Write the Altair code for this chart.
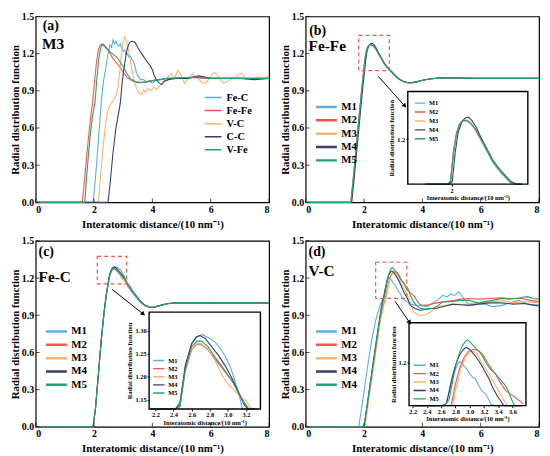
import altair as alt
import pandas as pd

FONT = "Liberation Serif"
W, H = 236, 188

M_NAMES = ["M1", "M2", "M3", "M4", "M5"]
M_COLORS = ["#5BAFDD", "#F4574A", "#FBB36C", "#3C3B6E", "#22A46F"]
A_NAMES = ["Fe-C", "Fe-Fe", "V-C", "C-C", "V-Fe"]
X_TICKS = [0, 2, 4, 6, 8]
Y_TICKS = [0.0, 0.3, 0.6, 0.9, 1.2, 1.5]
XT = "Interatomic distance/(10 nm⁻¹)"
YT = "Radial distribution function"

# ---------------- panel (a): M3 ----------------
A_FEC = [(0, 0), (1.97, 0), (2.05, 0.2), (2.15, 0.5), (2.25, 0.82), (2.32, 0.97), (2.4, 1.08), (2.45, 1.16),
         (2.5, 1.22), (2.55, 1.27), (2.6, 1.25), (2.65, 1.31), (2.7, 1.28), (2.75, 1.3), (2.8, 1.27), (2.85, 1.26),
         (2.9, 1.28), (2.95, 1.24), (3.0, 1.22), (3.05, 1.23), (3.1, 1.19), (3.15, 1.2), (3.2, 1.17), (3.25, 1.18),
         (3.3, 1.15), (3.35, 1.14), (3.4, 1.1), (3.45, 1.05), (3.5, 1.02), (3.6, 0.99), (3.7, 0.99), (3.8, 0.97),
         (3.9, 0.98), (4.0, 0.96), (4.1, 0.98), (4.3, 0.99), (4.6, 1.0), (5.0, 1.0), (5.5, 1.01), (6.0, 1.0),
         (6.5, 1.0), (7.0, 1.0), (7.5, 1.0), (8.0, 1.0)]
A_FEFE = [(0, 0), (1.6, 0), (1.7, 0.25), (1.8, 0.5), (1.9, 0.72), (1.95, 0.8), (2.02, 0.98), (2.08, 1.12),
          (2.14, 1.22), (2.2, 1.265), (2.25, 1.275), (2.35, 1.26), (2.45, 1.235), (2.55, 1.2), (2.65, 1.16),
          (2.79, 1.12), (2.9, 1.085), (3.0, 1.05), (3.13, 1.01), (3.3, 0.98), (3.47, 0.966), (3.7, 0.97),
          (3.9, 0.98), (4.1, 0.987), (4.5, 0.995), (5.0, 1.005), (5.5, 1.005), (6.0, 1.0), (7.0, 1.0), (8.0, 1.0)]
A_VC = [(0, 0), (2.15, 0), (2.22, 0.2), (2.3, 0.42), (2.38, 0.6), (2.45, 0.72), (2.52, 0.77), (2.6, 0.8),
        (2.68, 0.83), (2.75, 0.86), (2.82, 0.92), (2.88, 1.05), (2.93, 1.18), (2.98, 1.27), (3.03, 1.32),
        (3.06, 1.334), (3.1, 1.3), (3.15, 1.26), (3.19, 1.22), (3.25, 1.14), (3.3, 1.066), (3.38, 0.98),
        (3.47, 0.908), (3.55, 0.88), (3.64, 0.87), (3.7, 0.91), (3.78, 0.89), (3.86, 0.92), (3.95, 0.9),
        (4.05, 0.93), (4.15, 0.91), (4.25, 0.94), (4.35, 0.97), (4.5, 1.0), (4.65, 1.04), (4.75, 1.0),
        (4.88, 1.066), (5.0, 1.02), (5.1, 0.96), (5.2, 0.99), (5.37, 1.04), (5.55, 1.0), (5.7, 0.97),
        (5.83, 0.96), (5.95, 1.0), (6.11, 1.05), (6.25, 1.02), (6.35, 0.98), (6.45, 0.96), (6.6, 0.98),
        (6.84, 1.01), (6.95, 1.03), (7.07, 1.04), (7.2, 1.0), (7.35, 0.99), (7.6, 1.01), (7.8, 1.0), (8.0, 1.02)]
A_CC = [(0, 0), (2.48, 0), (2.55, 0.15), (2.65, 0.4), (2.75, 0.6), (2.85, 0.73), (2.9, 0.8), (2.97, 0.98),
        (3.05, 1.12), (3.12, 1.22), (3.18, 1.27), (3.24, 1.295), (3.3, 1.3), (3.41, 1.29), (3.5, 1.25),
        (3.6, 1.21), (3.69, 1.18), (3.8, 1.14), (3.92, 1.105), (4.0, 1.07), (4.07, 1.02), (4.14, 0.987),
        (4.25, 0.96), (4.32, 0.95), (4.4, 0.975), (4.55, 0.99), (4.8, 1.0), (5.2, 1.0), (5.6, 1.02), (6.0, 1.0),
        (6.5, 1.0), (7.0, 1.0), (7.5, 0.99), (8.0, 1.0)]
A_VFE = [(0, 0), (1.68, 0), (1.76, 0.25), (1.86, 0.52), (1.95, 0.7), (2.03, 0.8), (2.1, 1.0), (2.16, 1.15),
         (2.22, 1.24), (2.28, 1.28), (2.35, 1.27), (2.45, 1.24), (2.57, 1.21), (2.68, 1.19), (2.79, 1.17),
         (2.9, 1.13), (3.02, 1.09), (3.12, 1.04), (3.24, 1.0), (3.4, 0.975), (3.58, 0.966), (3.8, 0.97),
         (4.0, 0.98), (4.2, 0.99), (4.5, 1.0), (5.0, 1.005), (5.5, 1.01), (6.0, 1.0), (7.0, 1.0), (8.0, 1.0)]

# ---------------- panel (b): Fe-Fe ----------------
B_M1 = [(0, 0), (1.55, 0), (1.62, 0.16), (1.7, 0.36), (1.78, 0.56), (1.86, 0.76), (1.93, 0.93), (1.98, 1.04),
        (2.03, 1.15), (2.08, 1.22), (2.13, 1.254), (2.19, 1.268), (2.25, 1.27), (2.32, 1.26), (2.4, 1.237),
        (2.5, 1.196), (2.6, 1.154), (2.7, 1.112), (2.8, 1.082), (2.9, 1.058), (3.0, 1.035), (3.1, 1.012),
        (3.2, 0.993), (3.35, 0.975), (3.5, 0.965), (3.65, 0.966), (3.8, 0.972), (4.0, 0.985), (4.3, 0.997),
        (4.8, 1.006), (5.3, 1.003), (5.8, 1.0), (6.5, 1.0), (7.2, 1.0), (8.0, 1.0)]
B_M2 = [(0, 0), (1.55, 0), (1.62, 0.16), (1.7, 0.36), (1.78, 0.56), (1.86, 0.76), (1.93, 0.93), (1.98, 1.04),
        (2.03, 1.15), (2.08, 1.22), (2.13, 1.255), (2.19, 1.271), (2.25, 1.27), (2.32, 1.261), (2.4, 1.238),
        (2.5, 1.2), (2.6, 1.16), (2.7, 1.12), (2.8, 1.09), (2.9, 1.065), (3.0, 1.04), (3.1, 1.015),
        (3.2, 0.995), (3.35, 0.975), (3.5, 0.965), (3.65, 0.966), (3.8, 0.972), (4.0, 0.985), (4.3, 0.997),
        (4.8, 1.006), (5.3, 1.003), (5.8, 1.0), (6.5, 1.0), (7.2, 1.0), (8.0, 1.0)]
B_M3 = [(0, 0), (1.55, 0), (1.62, 0.16), (1.7, 0.36), (1.78, 0.56), (1.86, 0.76), (1.93, 0.93), (1.98, 1.04),
        (2.03, 1.15), (2.08, 1.22), (2.13, 1.254), (2.19, 1.269), (2.25, 1.27), (2.32, 1.262), (2.4, 1.24),
        (2.5, 1.205), (2.6, 1.168), (2.7, 1.124), (2.8, 1.094), (2.9, 1.07), (3.0, 1.046), (3.1, 1.02),
        (3.2, 0.997), (3.35, 0.976), (3.5, 0.966), (3.65, 0.966), (3.8, 0.972), (4.0, 0.985), (4.3, 0.997),
        (4.8, 1.007), (5.3, 1.003), (5.8, 1.0), (6.5, 1.0), (7.2, 1.0), (8.0, 1.0)]
B_M4 = [(0, 0), (1.58, 0), (1.65, 0.16), (1.73, 0.36), (1.81, 0.56), (1.89, 0.76), (1.96, 0.93), (2.01, 1.04),
        (2.06, 1.15), (2.11, 1.225), (2.17, 1.265), (2.23, 1.28), (2.28, 1.283), (2.34, 1.272), (2.42, 1.245),
        (2.5, 1.205), (2.6, 1.162), (2.7, 1.12), (2.8, 1.09), (2.9, 1.064), (3.0, 1.04), (3.1, 1.015),
        (3.2, 0.995), (3.35, 0.975), (3.5, 0.965), (3.65, 0.966), (3.8, 0.972), (4.0, 0.985), (4.3, 0.997),
        (4.8, 1.006), (5.3, 1.003), (5.8, 1.0), (6.5, 1.0), (7.2, 1.0), (8.0, 1.0)]
B_M5 = [(0, 0), (1.55, 0), (1.62, 0.16), (1.7, 0.36), (1.78, 0.56), (1.86, 0.76), (1.93, 0.93), (1.98, 1.04),
        (2.03, 1.15), (2.08, 1.22), (2.13, 1.255), (2.19, 1.27), (2.25, 1.272), (2.32, 1.262), (2.4, 1.24),
        (2.5, 1.2), (2.6, 1.16), (2.7, 1.12), (2.8, 1.09), (2.9, 1.065), (3.0, 1.04), (3.1, 1.015),
        (3.2, 0.995), (3.35, 0.975), (3.5, 0.965), (3.65, 0.966), (3.8, 0.972), (4.0, 0.985), (4.3, 0.997),
        (4.8, 1.006), (5.3, 1.003), (5.8, 1.0), (6.5, 1.0), (7.2, 1.0), (8.0, 1.0)]

# ---------------- panel (c): Fe-C ----------------
C_M1 = [(0, 0), (1.97, 0), (2.05, 0.15), (2.15, 0.43), (2.25, 0.71), (2.35, 0.94), (2.42, 1.07), (2.47, 1.145),
        (2.53, 1.222), (2.6, 1.27), (2.66, 1.287), (2.72, 1.291), (2.8, 1.283), (2.86, 1.275), (2.92, 1.26),
        (2.97, 1.245), (3.03, 1.22), (3.08, 1.189), (3.12, 1.165), (3.16, 1.13), (3.22, 1.11), (3.3, 1.085),
        (3.45, 1.04), (3.6, 1.0), (3.75, 0.975), (3.9, 0.963), (4.05, 0.965), (4.25, 0.978), (4.5, 0.993),
        (4.8, 1.0), (5.3, 1.003), (6.0, 1.0), (6.8, 1.0), (7.5, 1.002), (8.0, 1.0)]
C_M2 = [(0, 0), (1.97, 0), (2.05, 0.15), (2.15, 0.42), (2.25, 0.7), (2.35, 0.93), (2.42, 1.06), (2.47, 1.135),
        (2.53, 1.212), (2.6, 1.258), (2.66, 1.271), (2.7, 1.27), (2.78, 1.258), (2.86, 1.238), (2.95, 1.215),
        (3.05, 1.19), (3.12, 1.165), (3.18, 1.145), (3.23, 1.128), (3.3, 1.1), (3.45, 1.055), (3.6, 1.01),
        (3.75, 0.98), (3.9, 0.965), (4.05, 0.965), (4.25, 0.978), (4.5, 0.993), (4.8, 1.0), (5.3, 1.002),
        (6.0, 1.0), (6.8, 1.0), (7.5, 1.0), (8.0, 1.0)]
C_M3 = [(0, 0), (1.97, 0), (2.05, 0.15), (2.15, 0.42), (2.25, 0.7), (2.35, 0.93), (2.42, 1.06), (2.47, 1.135),
        (2.53, 1.213), (2.6, 1.26), (2.66, 1.273), (2.7, 1.272), (2.78, 1.26), (2.86, 1.235), (2.93, 1.205),
        (3.0, 1.185), (3.05, 1.175), (3.12, 1.16), (3.2, 1.148), (3.26, 1.13), (3.32, 1.1), (3.45, 1.06),
        (3.6, 1.01), (3.75, 0.98), (3.9, 0.966), (4.05, 0.966), (4.25, 0.978), (4.5, 0.993), (4.8, 1.0),
        (5.3, 1.003), (6.0, 1.0), (6.8, 1.0), (7.5, 1.0), (8.0, 1.0)]
C_M4 = [(0, 0), (1.97, 0), (2.05, 0.15), (2.15, 0.43), (2.25, 0.71), (2.35, 0.94), (2.42, 1.07), (2.47, 1.14),
        (2.53, 1.225), (2.6, 1.272), (2.65, 1.286), (2.69, 1.289), (2.75, 1.283), (2.82, 1.265), (2.9, 1.245),
        (2.97, 1.224), (3.05, 1.195), (3.12, 1.165), (3.18, 1.14), (3.22, 1.128), (3.3, 1.1), (3.45, 1.055),
        (3.6, 1.01), (3.75, 0.98), (3.9, 0.965), (4.05, 0.965), (4.25, 0.978), (4.5, 0.993), (4.8, 1.0),
        (5.3, 1.002), (6.0, 1.0), (6.8, 1.0), (7.5, 1.0), (8.0, 1.0)]
C_M5 = [(0, 0), (1.97, 0), (2.05, 0.15), (2.15, 0.42), (2.25, 0.7), (2.35, 0.93), (2.42, 1.06), (2.47, 1.135),
        (2.53, 1.215), (2.6, 1.265), (2.66, 1.277), (2.71, 1.277), (2.78, 1.265), (2.86, 1.242), (2.95, 1.218),
        (3.05, 1.19), (3.12, 1.163), (3.18, 1.142), (3.23, 1.128), (3.3, 1.1), (3.45, 1.055), (3.6, 1.01),
        (3.75, 0.98), (3.9, 0.965), (4.05, 0.965), (4.25, 0.978), (4.5, 0.993), (4.8, 1.0), (5.3, 1.002),
        (6.0, 1.0), (6.8, 1.0), (7.5, 1.0), (8.0, 1.0)]

# ---------------- panel (d): V-C ----------------
D_M1 = [(0, 0), (1.82, 0), (1.95, 0.2), (2.1, 0.45), (2.25, 0.68), (2.4, 0.86), (2.55, 0.98), (2.66, 1.04),
        (2.72, 1.1), (2.78, 1.16), (2.83, 1.195), (2.86, 1.205), (2.9, 1.195), (2.95, 1.18), (3.0, 1.16),
        (3.04, 1.147), (3.08, 1.14), (3.12, 1.12), (3.15, 1.105), (3.18, 1.092), (3.22, 1.085), (3.27, 1.062),
        (3.3, 1.045), (3.35, 1.03), (3.47, 1.008), (3.6, 0.99), (3.81, 0.98), (4.0, 0.975), (4.15, 0.97),
        (4.3, 0.99), (4.5, 1.02), (4.6, 1.04), (4.7, 1.06), (4.85, 1.05), (4.98, 1.07), (5.1, 1.06), (5.26, 1.09),
        (5.35, 1.06), (5.43, 1.03), (5.55, 1.0), (5.7, 0.98), (5.9, 0.99), (6.15, 0.99), (6.4, 0.97),
        (6.73, 0.98), (7.0, 1.0), (7.3, 1.02), (7.6, 0.99), (7.87, 0.98), (8.0, 0.99)]
D_M2 = [(0, 0), (2.02, 0), (2.2, 0.3), (2.4, 0.62), (2.55, 0.86), (2.66, 0.98), (2.74, 1.04), (2.8, 1.12),
        (2.86, 1.18), (2.92, 1.22), (2.97, 1.24), (3.04, 1.25), (3.1, 1.248), (3.15, 1.24), (3.2, 1.225),
        (3.25, 1.2), (3.31, 1.177), (3.36, 1.16), (3.42, 1.13), (3.5, 1.098), (3.56, 1.085), (3.62, 1.075),
        (3.68, 1.062), (3.72, 1.055), (3.75, 1.044), (3.81, 1.02), (3.9, 0.99), (4.0, 0.98), (4.15, 0.98),
        (4.3, 0.99), (4.5, 1.0), (4.8, 1.01), (5.1, 1.02), (5.3, 1.03), (5.6, 1.035), (6.0, 1.03), (6.3, 1.035),
        (6.7, 1.04), (7.0, 1.035), (7.4, 1.035), (7.7, 1.02), (8.0, 1.01)]
D_M3 = [(0, 0), (2.03, 0), (2.2, 0.28), (2.4, 0.6), (2.55, 0.84), (2.68, 0.98), (2.76, 1.04), (2.82, 1.12),
        (2.88, 1.18), (2.94, 1.22), (3.0, 1.24), (3.04, 1.244), (3.1, 1.235), (3.17, 1.2), (3.22, 1.18),
        (3.27, 1.159), (3.33, 1.13), (3.4, 1.098), (3.47, 1.065), (3.535, 1.04), (3.6, 0.99), (3.7, 0.93),
        (3.8, 0.91), (3.9, 0.9), (4.03, 0.9), (4.15, 0.91), (4.3, 0.93), (4.5, 0.97), (4.8, 0.98), (5.1, 0.985),
        (5.5, 0.99), (6.0, 1.0), (6.4, 1.01), (6.73, 1.02), (7.1, 1.0), (7.5, 1.01), (8.0, 1.0)]
D_M4 = [(0, 0), (2.0, 0), (2.2, 0.33), (2.4, 0.66), (2.55, 0.9), (2.62, 1.0), (2.68, 1.05), (2.74, 1.13),
        (2.8, 1.19), (2.86, 1.23), (2.92, 1.252), (2.955, 1.258), (3.0, 1.25), (3.06, 1.232), (3.13, 1.207),
        (3.2, 1.175), (3.27, 1.141), (3.32, 1.11), (3.38, 1.08), (3.43, 1.06), (3.48, 1.04), (3.59, 0.98),
        (3.75, 0.955), (3.92, 0.94), (4.2, 0.95), (4.5, 0.956), (4.8, 0.975), (5.04, 0.99), (5.3, 0.985),
        (5.6, 0.98), (5.9, 0.99), (6.3, 1.0), (6.73, 1.0), (7.1, 0.99), (7.5, 0.995), (7.87, 0.98), (8.0, 0.975)]
D_M5 = [(0, 0), (2.0, 0), (2.2, 0.32), (2.4, 0.64), (2.55, 0.88), (2.64, 1.0), (2.71, 1.06), (2.76, 1.13),
        (2.81, 1.195), (2.86, 1.24), (2.9, 1.265), (2.94, 1.28), (2.97, 1.286), (3.0, 1.28), (3.05, 1.265),
        (3.1, 1.25), (3.13, 1.244), (3.18, 1.225), (3.23, 1.2), (3.28, 1.18), (3.31, 1.171), (3.36, 1.16),
        (3.42, 1.14), (3.5, 1.116), (3.55, 1.09), (3.59, 1.062), (3.63, 1.04), (3.7, 1.008), (3.8, 0.98),
        (3.92, 0.956), (4.1, 0.95), (4.37, 0.956), (4.55, 0.98), (4.7, 1.01), (5.0, 1.01), (5.3, 1.02),
        (5.6, 1.02), (5.9, 1.0), (6.15, 1.01), (6.4, 1.02), (6.73, 1.035), (7.0, 1.03), (7.3, 1.04), (7.6, 1.05),
        (7.8, 1.035), (8.0, 1.03)]


def to_df(series):
    rows = []
    for name, pts in series.items():
        for i, (r, g) in enumerate(pts):
            rows.append({"series": name, "r": r, "g": g, "i": i})
    return pd.DataFrame(rows)


def main_xy():
    x = alt.X("r:Q", scale=alt.Scale(domain=[0, 8], nice=False, zero=False),
              axis=alt.Axis(orient="bottom", values=X_TICKS, format="d", title=XT, ticks=False, domain=False,
                            grid=False, labelFontSize=10, titleFontSize=11, labelPadding=2, titlePadding=4))
    y = alt.Y("g:Q", scale=alt.Scale(domain=[0, 1.5], nice=False),
              axis=alt.Axis(orient="left", values=Y_TICKS, format=".1f", title=YT, ticks=False, domain=False,
                            grid=False, labelFontSize=10, titleFontSize=11, labelPadding=2, titlePadding=1))
    return x, y


def main_panel(series, names, legend, texts, box=None, arrow=None, angle=0, label_expr=None):
    x, y = main_xy()
    leg_kw = dict(orient="none", title=None, symbolType="stroke", labelFont=FONT, labelFontWeight="bold",
                  labelColor="black", padding=0)
    leg_kw.update(legend)
    if label_expr:
        leg_kw["labelExpr"] = label_expr
    lines = alt.Chart(to_df(series)).mark_line(strokeWidth=1.1).encode(
        x=x, y=y, order="i:Q",
        color=alt.Color("series:N", scale=alt.Scale(domain=names, range=M_COLORS), legend=alt.Legend(**leg_kw)))
    # inward tick marks along the bottom and left edges
    xt = alt.Chart(pd.DataFrame({"r": X_TICKS})).mark_tick(
        color="black", thickness=1, size=4, orient="vertical").encode(x=x, y=alt.value(H - 2))
    yt = alt.Chart(pd.DataFrame({"g": Y_TICKS})).mark_tick(
        color="black", thickness=1, size=4, orient="horizontal").encode(y=y, x=alt.value(2))
    layers = [lines, xt, yt]
    if box:
        layers.append(alt.Chart(pd.DataFrame([box])).mark_rect(
            filled=False, color="#F4574A", strokeWidth=1.2, strokeDash=[4, 3]).encode(
            x=x, x2="r2:Q", y=y, y2="g2:Q"))
    if arrow:
        layers.append(alt.Chart(pd.DataFrame([arrow])).mark_rule(color="black", strokeWidth=1).encode(
            x=x, x2="r2:Q", y=y, y2="g2:Q"))
        head = {"r": arrow["r2"], "g": arrow["g2"]}
        layers.append(alt.Chart(pd.DataFrame([head])).mark_point(
            shape="triangle", filled=True, color="black", opacity=1, size=26, angle=angle).encode(x=x, y=y))
    layers.append(alt.Chart(pd.DataFrame(texts)).mark_text(
        align="left", baseline="middle", font=FONT, fontWeight="bold", color="black").encode(
        x=x, y=y, text="t:N", size=alt.Size("s:Q", scale=None)))
    return alt.layer(*layers)


def inset_panel(series, xdom, ydom, xr, yr, xvals, yvals, xfmt, yfmt, legend):
    px0, px1 = xr[0] * W, xr[1] * W
    py0, py1 = yr[0] * H, yr[1] * H
    x = alt.X("r:Q", scale=alt.Scale(domain=xdom, range=[px0, px1], nice=False, zero=False),
              axis=alt.Axis(orient="bottom", offset=-(H - py1), values=xvals, format=xfmt, title=XT,
                            labelFontSize=6.5, titleFontSize=6.5, tickSize=2, labelPadding=1, titlePadding=1,
                            domain=False, grid=False))
    y = alt.Y("g:Q", scale=alt.Scale(domain=ydom, range=[py1, py0], nice=False, zero=False),
              axis=alt.Axis(orient="left", offset=-px0, values=yvals, format=yfmt, title=YT,
                            labelFontSize=6.5, titleFontSize=6.5, tickSize=2, labelPadding=1, titlePadding=2,
                            domain=False, grid=False))
    leg_kw = dict(orient="none", title=None, symbolType="stroke", labelFont=FONT, labelFontWeight="bold",
                  labelColor="black", padding=0, labelFontSize=6.5, symbolStrokeWidth=1.4, labelOffset=3)
    leg_kw.update(legend)
    leg_kw["legendX"] = px0 + legend["legendX"]
    leg_kw["legendY"] = py0 + legend["legendY"]
    lines = alt.Chart(to_df(series)).transform_filter(
        f"datum.r >= {xdom[0]} && datum.r <= {xdom[1]}").transform_calculate(
        g=f"max(min(datum.g, {ydom[1]}), {ydom[0]})").mark_line(strokeWidth=1.1).encode(
        x=x, y=y, order="i:Q",
        color=alt.Color("series:N", scale=alt.Scale(domain=M_NAMES, range=M_COLORS), legend=alt.Legend(**leg_kw)))
    frame = alt.Chart(pd.DataFrame([{"r": xdom[0], "r2": xdom[1], "g": ydom[0], "g2": ydom[1]}])).mark_rect(
        filled=False, color="black", strokeWidth=1.4).encode(x=x, x2="r2:Q", y=y, y2="g2:Q")
    return alt.layer(lines, frame)


def combine(main, inset=None):
    if inset is None:
        return main.properties(width=W, height=H)
    return alt.layer(main, inset).resolve_scale(x="independent", y="independent", color="independent") \
        .properties(width=W, height=H)


BIG_LEG = dict(symbolSize=441, symbolStrokeWidth=2.5, labelFontSize=11, clipHeight=11, rowPadding=1.5,
               labelOffset=3, legendX=9, legendY=0.487 * H - 5.5)

pa = combine(main_panel(
    {"Fe-C": A_FEC, "Fe-Fe": A_FEFE, "V-C": A_VC, "C-C": A_CC, "V-Fe": A_VFE}, A_NAMES,
    dict(symbolSize=289, symbolStrokeWidth=1.5, labelFontSize=10.5, clipHeight=10.5, rowPadding=2.2,
         labelOffset=4, legendX=0.72 * W, legendY=0.435 * H - 5),
    {"r": [0.24, 0.22], "g": [1.42, 1.28], "t": ["(a)", "M3"], "s": [14, 15.5]}))

pb = combine(main_panel(
    dict(zip(M_NAMES, [B_M1, B_M2, B_M3, B_M4, B_M5])), M_NAMES, BIG_LEG,
    {"r": [0.12, 0.1], "g": [1.38, 1.26], "t": ["(b)", "Fe-Fe"], "s": [14, 15.5]},
    box={"r": 1.82, "r2": 2.87, "g": 1.062, "g2": 1.347},
    arrow={"r": 2.49, "r2": 3.38, "g": 1.016, "g2": 0.782}, angle=139),
    inset_panel(dict(zip(M_NAMES, [B_M1, B_M2, B_M3, B_M4, B_M5])), [1.25, 3.3], [1.03, 1.38],
                [0.4376, 0.952], [0.404, 0.902], [2], [1.2], "d", ".1f",
                dict(symbolSize=112, clipHeight=6.5, rowPadding=2, legendX=6.5, legendY=8.5)))

pc = combine(main_panel(
    dict(zip(M_NAMES, [C_M1, C_M2, C_M3, C_M4, C_M5])), M_NAMES, BIG_LEG,
    {"r": [0.1, 0.1], "g": [1.41, 1.21], "t": ["(c)", "Fe-C"], "s": [14, 15.5]},
    box={"r": 2.11, "r2": 3.12, "g": 1.153, "g2": 1.375},
    arrow={"r": 2.62, "r2": 3.67, "g": 1.109, "g2": 0.913}, angle=129),
    inset_panel(dict(zip(M_NAMES, [C_M1, C_M2, C_M3, C_M4, C_M5])), [2.13, 3.36], [1.13, 1.34],
                [0.486, 0.963], [0.383, 0.904], [2.2, 2.4, 2.6, 2.8, 3.0, 3.2], [1.15, 1.2, 1.25, 1.3],
                ".1f", ".2f",
                dict(symbolSize=130, clipHeight=6, rowPadding=1.2, legendX=3.3, legendY=46)))

pd_ = combine(main_panel(
    dict(zip(M_NAMES, [D_M1, D_M2, D_M3, D_M4, D_M5])), M_NAMES, BIG_LEG,
    {"r": [0.1, 0.1], "g": [1.41, 1.255], "t": ["(d)", "V-C"], "s": [14, 15.5]},
    box={"r": 2.40, "r2": 3.47, "g": 1.037, "g2": 1.328},
    arrow={"r": 3.07, "r2": 3.55, "g": 1.011, "g2": 0.846}, angle=146,
    label_expr="datum.label == 'M5' ? 'M4' : datum.label"),
    inset_panel(dict(zip(M_NAMES, [D_M1, D_M2, D_M3, D_M4, D_M5])), [2.15, 3.79], [1.04, 1.35],
                [0.443, 0.944], [0.44, 0.886], [2.2, 2.4, 2.6, 2.8, 3.0, 3.2, 3.4, 3.6], [1.2],
                ".1f", ".1f",
                dict(symbolSize=151, clipHeight=6, rowPadding=1.5, legendX=3.7, legendY=40)))

row1 = alt.hconcat(pa, pb, spacing=6).resolve_scale(color="independent", x="independent", y="independent")
row2 = alt.hconcat(pc, pd_, spacing=6).resolve_scale(color="independent", x="independent", y="independent")

chart = alt.vconcat(row1, row2, spacing=5).resolve_scale(
    color="independent", x="independent", y="independent").properties(
    padding=0, background="white").configure_view(
    stroke="black", strokeWidth=1.2).configure_axis(
    labelFont=FONT, titleFont=FONT, labelFontWeight="bold", titleFontWeight="bold",
    labelColor="black", titleColor="black", tickColor="black", domainColor="black")

chart.save("out.html", embed_options={"renderer": "svg", "actions": False})
